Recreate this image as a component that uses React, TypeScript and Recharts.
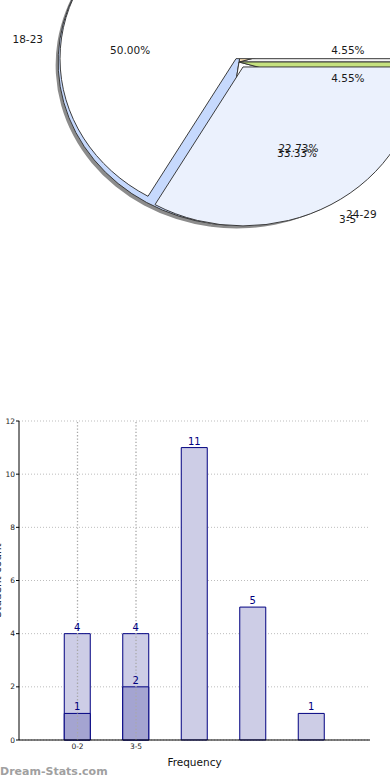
import React from "react";
import {
  PieChart,
  Pie,
  Cell,
  BarChart,
  Bar,
  XAxis,
  YAxis,
  CartesianGrid,
  ReferenceLine,
  LabelList,
  Label,
} from "recharts";

// ---- Pie A (age groups) ----
const ageGroups = ["6-11", "12-17", "18-23", "24-29", "30-35"];
const ageCounts = [1, 4, 11, 5, 1];
const ageColors = ["#f4f4f4", "#fde3b8", "#c6d9fd", "#ffffff", "#c5e17f"];

// ---- Pie B (frequency groups) ----
const freqGroups = ["0-2", "3-5"];
const freqCounts = [2, 1];
const freqColors = ["#ffffff", "#ebf1fd"];

// ---- Bar chart ----
const barCategories = ["0-2", "3-5", "6-8", "9-11", "12-14"];
const barTickLabels = ["0-2", "3-5", "", "", ""];
const barTotals = [4, 4, 11, 5, 1];
const barSubset: (number | null)[] = [1, 2, null, null, null];
const yTicks = [0, 2, 4, 6, 8, 10, 12];

const ageData = ageGroups.map((name, i) => ({ name, value: ageCounts[i] }));
const freqData = freqGroups.map((name, i) => ({ name, value: freqCounts[i] }));
const barData = barCategories.map((cat, i) => ({
  cat,
  total: barTotals[i],
  sub: barSubset[i],
}));

const SQUISH = 0.903;
const RAD = Math.PI / 180;
const FONT = "DejaVu Sans";
const SHIFT = 30; // pie svg starts above the page so the top of the pie reaches the edge
const CY = 62 + SHIFT;

function makePieLabel(nameR: number, pctR: number) {
  return (p: any) => {
    const { cx, cy, midAngle, percent } = p;
    const name = p.name ?? p.payload?.name;
    const c = Math.cos(-midAngle * RAD);
    const s = Math.sin(-midAngle * RAD);
    const px = cx + pctR * c;
    const py = cy + pctR * s;
    const nx = cx + nameR * c;
    const ny = cy + nameR * s;
    const fix = (x: number, y: number) =>
      `translate(${x} ${y}) scale(1 ${1 / SQUISH}) translate(${-x} ${-y})`;
    return (
      <g>
        <text
          x={px}
          y={py}
          dy={2}
          textAnchor="middle"
          dominantBaseline="central"
          transform={fix(px, py)}
          fontSize={10.5}
          fontFamily={FONT}
          fill="#1a1a1a"
        >
          {(percent * 100).toFixed(2) + "%"}
        </text>
        <text
          x={nx}
          y={ny}
          dy={2}
          textAnchor={c >= 0 ? "start" : "end"}
          dominantBaseline="central"
          transform={fix(nx, ny)}
          fontSize={10.5}
          fontFamily={FONT}
          fill="#1a1a1a"
        >
          {name}
        </text>
      </g>
    );
  };
}

const YAxisTitle = (props: any) => {
  const vb = props.viewBox || { x: 0, y: 421, width: 19, height: 319 };
  const x = 1;
  const y = vb.y + vb.height / 2;
  return (
    <text
      x={x}
      y={y}
      transform={`rotate(-90 ${x} ${y})`}
      textAnchor="middle"
      dominantBaseline="alphabetic"
      fontSize={10.5}
      fontFamily={FONT}
      fill="#222"
    >
      Student count
    </text>
  );
};

const NoTick = () => <g />;

export default function App() {
  return (
    <div>
      <div
        style={{
          position: "absolute",
          left: 0,
          top: -SHIFT,
          width: 390,
          height: 300,
          transform: `scaleY(${SQUISH})`,
          transformOrigin: `0 ${CY}px`,
        }}
      >
        <PieChart width={390} height={300} margin={{ top: 0, right: 0, bottom: 0, left: 0 }}>
          {/* shadow */}
          <Pie
            data={ageData}
            dataKey="value"
            cx={236.5}
            cy={CY + 3.3}
            outerRadius={181}
            fill="#8c8c8c"
            stroke="none"
            labelLine={false}
            isAnimationActive={false}
          />
          {/* Pie A */}
          <Pie
            data={ageData}
            dataKey="value"
            cx={239}
            cy={CY}
            outerRadius={181}
            stroke="#333"
            strokeWidth={1}
            labelLine={false}
            isAnimationActive={false}
          >
            {ageData.map((d, i) => (
              <Cell key={d.name} fill={ageColors[i]} stroke="#333" />
            ))}
          </Pie>
          {/* Pie B, exploded slices */}
          <Pie
            data={freqData}
            dataKey="value"
            cx={236}
            cy={CY - 3.7}
            outerRadius={176}
            labelLine={false}
            isAnimationActive={false}
          >
            {freqData.map((d, i) => (
              <Cell
                key={d.name}
                fill={i === 0 ? freqColors[i] : "none"}
                stroke={i === 0 ? "#333" : "none"}
              />
            ))}
          </Pie>
          <Pie
            data={freqData}
            dataKey="value"
            cx={243}
            cy={CY + 5.5}
            outerRadius={176}
            labelLine={false}
            isAnimationActive={false}
          >
            {freqData.map((d, i) => (
              <Cell
                key={d.name}
                fill={i === 1 ? freqColors[i] : "none"}
                stroke={i === 1 ? "#333" : "none"}
              />
            ))}
          </Pie>
          {/* labels on top */}
          <Pie
            data={ageData}
            dataKey="value"
            cx={239}
            cy={CY}
            outerRadius={181}
            fill="none"
            stroke="none"
            labelLine={false}
            label={makePieLabel(198, 110)}
            isAnimationActive={false}
          />
          <Pie
            data={freqData}
            dataKey="value"
            cx={243}
            cy={CY + 5.5}
            outerRadius={176}
            fill="none"
            stroke="none"
            labelLine={false}
            label={makePieLabel(192, 108)}
            isAnimationActive={false}
          />
        </PieChart>
      </div>

      <div style={{ position: "absolute", left: 0, top: 400, width: 390, height: 380 }}>
        <BarChart
          width={390}
          height={380}
          data={barData}
          margin={{ top: 21, right: 20, bottom: 0, left: 0 }}
          barGap={-26}
        >
          <CartesianGrid vertical={false} stroke="#bdbdbd" strokeDasharray="1 2" />
          <XAxis
            dataKey="cat"
            padding={{ left: 29.25, right: 29.25 }}
            height={40}
            interval={0}
            tickLine={false}
            tickSize={2}
            tickMargin={2}
            axisLine={{ stroke: "#000" }}
            tick={{ fontSize: 7.5, fill: "#222", fontFamily: FONT }}
            tickFormatter={(v: any, i: number) => barTickLabels[i] ?? ""}
          >
            <Label
              value="Frequency"
              position="insideBottom"
              offset={14}
              style={{ fontSize: 10.5, fill: "#111", fontFamily: FONT }}
            />
          </XAxis>
          <XAxis
            xAxisId="top"
            orientation="top"
            dataKey="cat"
            height={0}
            tick={false}
            tickLine={false}
            axisLine={{ stroke: "#000" }}
          />
          <YAxis
            domain={[0, 12]}
            ticks={yTicks}
            width={19}
            tickSize={3}
            tickMargin={1}
            axisLine={{ stroke: "#000" }}
            tickLine={{ stroke: "#000" }}
            tick={{ fontSize: 7.5, fill: "#222", fontFamily: FONT }}
          >
            <Label content={YAxisTitle} />
          </YAxis>
          <YAxis
            yAxisId="right"
            orientation="right"
            width={0}
            domain={[0, 12]}
            ticks={yTicks}
            mirror
            tickSize={4}
            tick={<NoTick />}
            tickLine={{ stroke: "#999" }}
            axisLine={{ stroke: "#000" }}
          />
          <Bar
            dataKey="total"
            fill="#cdcde6"
            stroke="#000080"
            strokeWidth={1}
            barSize={26}
            isAnimationActive={false}
          >
            <LabelList
              dataKey="total"
              position="top"
              offset={3}
              fill="#000080"
              fontSize={10}
              fontFamily={FONT}
            />
          </Bar>
          <Bar
            dataKey="sub"
            fill="#a4a4d1"
            stroke="#000080"
            strokeWidth={1}
            barSize={26}
            isAnimationActive={false}
          >
            <LabelList
              dataKey="sub"
              position="top"
              offset={3}
              fill="#000080"
              fontSize={10}
              fontFamily={FONT}
            />
          </Bar>
          {barTickLabels
            .map((t, i) => ({ t, cat: barCategories[i] }))
            .filter((d) => d.t !== "")
            .map((d) => (
              <ReferenceLine
                key={d.cat}
                x={d.cat}
                stroke="#a8a8a8"
                strokeWidth={1.3}
                strokeDasharray="1.3 2"
              />
            ))}
        </BarChart>
      </div>

      <div
        style={{
          position: "absolute",
          left: 0,
          top: 765.5,
          fontFamily: FONT,
          fontWeight: "bold",
          fontSize: 11,
          lineHeight: "11px",
          color: "#a0a0a0",
          whiteSpace: "nowrap",
        }}
      >
        Dream-Stats.com
      </div>
    </div>
  );
}
